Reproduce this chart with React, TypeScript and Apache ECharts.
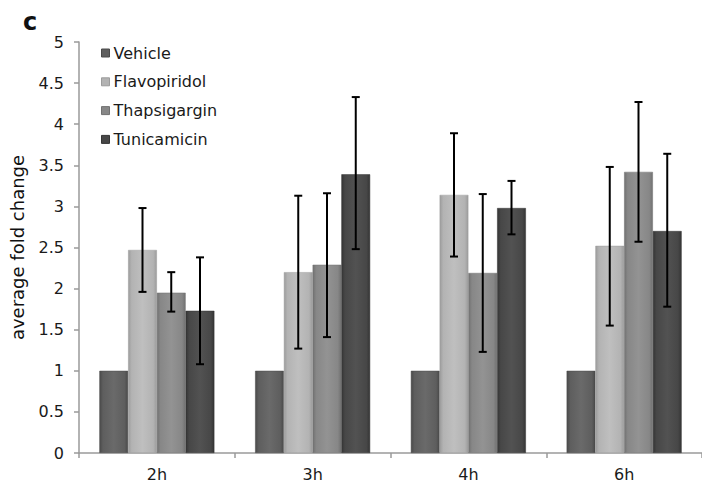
import React, { useEffect, useRef } from "react";
import * as echarts from "echarts";

const categories = ["2h", "3h", "4h", "6h"];
const seriesNames = ["Vehicle", "Flavopiridol", "Thapsigargin", "Tunicamicin"];
const vehicle = [1, 1, 1, 1];
const flavopiridol = [2.47, 2.2, 3.14, 2.52];
const thapsigargin = [1.95, 2.29, 2.19, 3.42];
const tunicamicin = [1.73, 3.39, 2.98, 2.7];
const flavopiridolHigh = [2.98, 3.13, 3.89, 3.48];
const flavopiridolLow = [1.96, 1.27, 2.39, 1.55];
const thapsigarginHigh = [2.2, 3.16, 3.15, 4.27];
const thapsigarginLow = [1.72, 1.41, 1.23, 2.57];
const tunicamicinHigh = [2.38, 4.33, 3.31, 3.64];
const tunicamicinLow = [1.08, 2.48, 2.66, 1.78];
const yTicks = [0, 0.5, 1, 1.5, 2, 2.5, 3, 3.5, 4, 4.5, 5];

const BAR_W = 28.75;
const FONT = "DejaVu Sans";

const palette = [
  { base: "#5e5e5e", edge: "#4a4a4a", light: "#6a6a6a" },
  { base: "#b3b3b3", edge: "#9c9c9c", light: "#bfbfbf" },
  { base: "#878787", edge: "#717171", light: "#939393" },
  { base: "#474747", edge: "#353535", light: "#525252" },
];

function grad(p: { base: string; edge: string; light: string }) {
  return new echarts.graphic.LinearGradient(0, 0, 1, 0, [
    { offset: 0, color: p.edge },
    { offset: 0.12, color: p.base },
    { offset: 0.5, color: p.light },
    { offset: 0.88, color: p.base },
    { offset: 1, color: p.edge },
  ]);
}

export default function App() {
  const ref = useRef<HTMLDivElement>(null);
  useEffect(() => {
    if (!ref.current) return;
    const chart = echarts.init(ref.current, undefined, { renderer: "svg" });
    const values = [vehicle, flavopiridol, thapsigargin, tunicamicin];
    const errs: (null | { hi: number[]; lo: number[] })[] = [
      null,
      { hi: flavopiridolHigh, lo: flavopiridolLow },
      { hi: thapsigarginHigh, lo: thapsigarginLow },
      { hi: tunicamicinHigh, lo: tunicamicinLow },
    ];
    const barSeries = seriesNames.map((name, i) => ({
      name,
      type: "bar",
      data: values[i],
      barWidth: BAR_W,
      barGap: "0%",
      itemStyle: {
        color: grad(palette[i]),
        borderColor: palette[i].edge,
        borderWidth: 0.5,
      },
      z: 2,
    }));
    const errSeries: any[] = [];
    errs.forEach((e, i) => {
      if (!e) return;
      const offset = (i - 1.5) * BAR_W;
      errSeries.push({
        type: "custom",
        name: seriesNames[i] + " error",
        data: categories.map((_, k) => [k, e.hi[k], e.lo[k]]),
        encode: { x: 0, y: [1, 2] },
        z: 5,
        silent: true,
        renderItem: (params: any, api: any) => {
          const idx = api.value(0);
          const top = api.coord([idx, api.value(1)]);
          const bot = api.coord([idx, api.value(2)]);
          const x = top[0] + offset;
          const cap = 4;
          const style = { stroke: "#000", lineWidth: 2 };
          return {
            type: "group",
            children: [
              { type: "line", shape: { x1: x, y1: top[1], x2: x, y2: bot[1] }, style },
              { type: "line", shape: { x1: x - cap, y1: top[1], x2: x + cap, y2: top[1] }, style },
              { type: "line", shape: { x1: x - cap, y1: bot[1], x2: x + cap, y2: bot[1] }, style },
            ],
          };
        },
      });
    });

    chart.setOption({
      animation: false,
      textStyle: { fontFamily: FONT },
      grid: { left: 76, right: 0, top: 42, bottom: 34, containLabel: false },
      legend: {
        data: seriesNames.map((n, i) => ({
          name: n,
          itemStyle: { color: palette[i].base, borderColor: palette[i].edge, borderWidth: 1 },
        })),
        orient: "vertical",
        left: 101,
        top: 45,
        padding: 0,
        itemWidth: 8,
        itemHeight: 8,
        itemGap: 12.8,
        icon: "rect",
        selectedMode: false,
        textStyle: { fontFamily: FONT, fontSize: 16, color: "#1a1a1a", lineHeight: 16, padding: [0, 0, 0, -1] },
      },
      xAxis: {
        type: "category",
        data: categories,
        axisLine: { lineStyle: { color: "#9a9a9a", width: 1.5 } },
        axisTick: { show: true, length: 5, lineStyle: { color: "#9a9a9a", width: 1.5 } },
        axisLabel: { fontFamily: FONT, fontSize: 16, color: "#1a1a1a", margin: 13 },
        splitLine: { show: false },
      },
      yAxis: {
        type: "value",
        min: yTicks[0],
        max: yTicks[yTicks.length - 1],
        interval: 0.5,
        name: "average fold change",
        nameLocation: "middle",
        nameGap: 53,
        nameTextStyle: { fontFamily: FONT, fontSize: 18, color: "#111111" },
        axisLine: { show: true, lineStyle: { color: "#9a9a9a", width: 1.5 } },
        axisTick: { show: true, length: 5, lineStyle: { color: "#9a9a9a", width: 1.5 } },
        axisLabel: { fontFamily: FONT, fontSize: 16, color: "#1a1a1a", margin: 15 },
        splitLine: { show: false },
      },
      graphic: [
        {
          type: "text",
          left: 23,
          top: 10,
          style: { text: "c", fontFamily: FONT, fontSize: 24, fontWeight: "bold", fill: "#111" },
        },
      ],
      series: [...barSeries, ...errSeries],
    });
    return () => chart.dispose();
  }, []);
  return (
    <div
      ref={ref}
      style={{ position: "fixed", left: 0, top: 0, width: 702, height: 487, background: "#fff" }}
    />
  );
}
